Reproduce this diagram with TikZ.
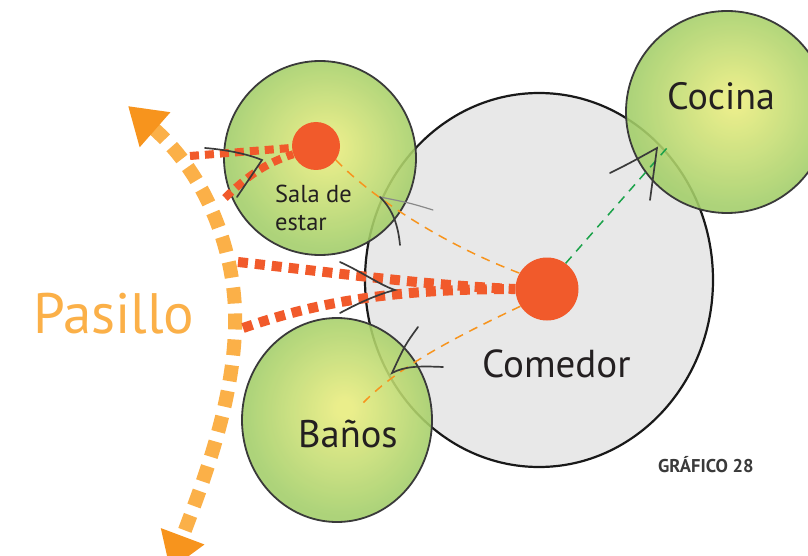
\documentclass[tikz,border=0pt]{standalone}
\usepackage{fontspec}
\setmainfont{PT Sans}
\usetikzlibrary{arrows.meta,shapes.geometric}
\definecolor{pasl}{HTML}{FBB048}
\definecolor{pasd}{HTML}{F7941D}
\definecolor{rdot}{HTML}{F15A2B}
\definecolor{gin}{HTML}{E8EC7C}
\definecolor{gout}{HTML}{A2CE68}
\definecolor{greyfill}{HTML}{E8E8E8}
\definecolor{ink}{HTML}{3A3A3A}
\definecolor{dorange}{HTML}{F7941D}
\definecolor{dgreen}{HTML}{1BA24A}
\definecolor{txt}{HTML}{231F20}
\pgfdeclareradialshading{greenball}{\pgfpoint{2bp}{3bp}}{color(0bp)=(gin); color(2bp)=(gin); color(25bp)=(gout); color(50bp)=(gout)}
\begin{document}
\begin{tikzpicture}[x=1pt,y=-1pt,
  room/.style={ellipse, inner sep=0pt, draw=ink, line width=1.8pt, shade, shading=greenball, fill opacity=0.88},
  dot/.style={circle, fill=rdot, inner sep=0pt},
  reddash/.style={draw=rdot, dash pattern=on 9pt off 6pt},
  chev/.style={draw=ink, line width=1.7pt, line cap=round},
  thin/.style={line width=1.5pt, dash pattern=on 9pt off 7pt},
  lbl/.style={anchor=base west, inner sep=0pt, text=txt}]
\useasboundingbox (0,0) rectangle (808,556);
\fill[white] (0,0) rectangle (808,556);
% rooms
\node[ellipse, draw=black!90, line width=2.2pt, fill=greyfill, minimum width=348pt, minimum height=374pt, inner sep=0pt] (comedor) at (539,280) {};
\node[room, minimum width=192pt, minimum height=194pt] (sala) at (320,158) {};
\node[room, minimum width=190pt, minimum height=204pt] (banos) at (337,420) {};
\node[room, minimum width=202pt, minimum height=202pt] (cocina) at (727,112) {};
% dots
\node[dot, minimum size=48pt] (sdot) at (316,146) {};
\node[dot, minimum size=63pt] (cdot) at (547,289) {};
% pasillo
\coordinate (ptop) at (128,106);
\coordinate (pmid) at (235,330);
\coordinate (pbot) at (170,570);
\draw[line width=14pt, draw=pasl, dash pattern=on 16pt off 10pt,
  {Triangle[length=36pt,width=44pt,color=pasd]}-{Triangle[length=36pt,width=44pt,color=pasd]}]
  (ptop) .. controls (210,178) and (238,260) .. (pmid) .. controls (232,410) and (200,490) .. (pbot);
% red dotted connectors
\coordinate (ps1) at (190,156);
\coordinate (ps2) at (225,198);
\coordinate (pa) at (238,262);
\coordinate (pb) at (243,328);
\draw[reddash, line width=8pt] (ps1) -- (sdot);
\draw[reddash, line width=8pt] (ps2) .. controls (245,178) and (265,163) .. (sdot.200);
\draw[reddash, line width=10pt, dash pattern=on 10pt off 7pt] (pa) .. controls (330,272) and (420,285) .. (cdot.west);
\draw[reddash, line width=10pt, dash pattern=on 10pt off 7pt] (pb) .. controls (310,305) and (380,289) .. (cdot.west);
% thin dashed connectors
\coordinate (bn) at (363,403);
\coordinate (ck) at (667,148);
\draw[thin, draw=dorange] (sdot.-35) .. controls (372,198) and (445,245) .. (cdot.150);
\draw[thin, draw=dorange] (cdot.213) .. controls (460,335) and (400,365) .. (bn);
\draw[thin, draw=dgreen] (cdot.54) -- (ck);
% sketchy arrowheads
\draw[chev] (205,148) .. controls (230,150) and (250,155) .. (262,160) -- (237,197);
\draw[chev] (340,262) .. controls (362,272) and (380,285) .. (395,290) .. controls (375,295) and (355,305) .. (340,313);
\draw[chev, draw=ink!60, line width=1.2pt] (433,210) .. controls (410,203) .. (380,197);
\draw[chev] (380,197) .. controls (393,210) and (398,225) .. (400,245);
\draw[chev] (418,327) .. controls (405,345) .. (392,373) .. controls (405,366) and (420,366) .. (443,367);
\draw[chev] (610,173) .. controls (630,163) .. (657,148) -- (650,200);
% labels
\node[lbl, font=\fontsize{24.5}{28}\selectfont] (tsala1) at (275,202) {Sala de};
\node[lbl, font=\fontsize{24.5}{28}\selectfont] (tsala2) at (275,230) {estar};
\node[lbl, font=\fontsize{39}{44}\selectfont] (tcom) at (482,377) {Comedor};
\node[lbl, font=\fontsize{38}{44}\selectfont] (tcoc) at (667,110) {Cocina};
\node[lbl, font=\fontsize{38.5}{44}\selectfont] (tban) at (298,447) {Baños};
\node[lbl, font=\fontsize{57}{64}\selectfont, text=pasl] (tpas) at (33,333) {Pasillo};
\node[lbl, font=\bfseries\fontsize{18.5}{22}\selectfont, text=ink] (tgraf) at (658,472) {GRÁFICO 28};
\end{tikzpicture}
\end{document}
